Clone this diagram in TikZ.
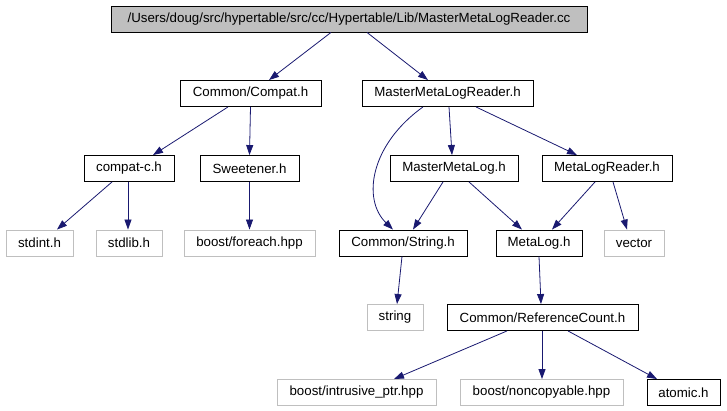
\documentclass[tikz,border=0pt]{standalone}
\usepackage{fontspec}
\setmainfont{Liberation Sans}
\usetikzlibrary{arrows.meta}
\definecolor{edgeblue}{HTML}{191970}
\definecolor{grayline}{HTML}{BFBFBF}
\tikzset{
  box/.style={draw=black, line width=0.9pt, inner sep=0pt, minimum height=26pt,
    font=\fontsize{13.3pt}{15pt}\selectfont, text=black},
  extbox/.style={box, draw=grayline},
  rootbox/.style={box, fill=grayline},
  dep/.style={draw=edgeblue, line width=0.8pt, -{Triangle[length=10pt,width=7pt]}}
}
\begin{document}
\begin{tikzpicture}[x=1pt,y=-1pt]
\useasboundingbox (0,0) rectangle (727,411);
% row 0
\node[rootbox, minimum width=476pt] (root) at (349,19) {/Users/doug/src/hypertable/src/cc/Hypertable/Lib/MasterMetaLogReader.cc};
% row 1
\node[box, minimum width=141pt] (compat) at (250.5,93.5) {Common/Compat.h};
\node[box, minimum width=171pt] (mmlr) at (447.5,93.5) {MasterMetaLogReader.h};
% row 2
\node[box, minimum width=90pt] (compatc) at (129,168.5) {compat-c.h};
\node[box, minimum width=99pt] (sweet) at (249.5,168.5) {Sweetener.h};
\node[box, minimum width=128pt] (mml) at (454,168.5) {MasterMetaLog.h};
\node[box, minimum width=130pt] (mlr) at (607,168.5) {MetaLogReader.h};
% row 3
\node[extbox, minimum width=67pt] (stdint) at (39.5,243) {stdint.h};
\node[extbox, minimum width=66pt] (stdlib) at (129,243) {stdlib.h};
\node[extbox, minimum width=131pt] (foreach) at (249.5,243) {boost/foreach.hpp};
\node[box, minimum width=128pt] (strh) at (403,243) {Common/String.h};
\node[box, minimum width=86pt] (metalog) at (539,243) {MetaLog.h};
\node[extbox, minimum width=60pt] (vector) at (634,243) {vector};
% row 4
\node[extbox, minimum width=56pt] (string) at (395,317.5) {string};
\node[box, minimum width=191pt] (refc) at (542.5,317.5) {Common/ReferenceCount.h};
% row 5
\node[extbox, minimum width=159pt] (intr) at (356.5,392.5) {boost/intrusive\_ptr.hpp};
\node[extbox, minimum width=163pt] (noncp) at (541.5,392.5) {boost/noncopyable.hpp};
\node[box, minimum width=73pt] (atomic) at (683.5,392.5) {atomic.h};
% edges
\draw[dep] ([xshift=-18pt]root.south) -- ([xshift=18.5pt]compat.north);
\draw[dep] ([xshift=18pt]root.south) -- ([xshift=-19.5pt]mmlr.north);
\draw[dep] ([xshift=-22.5pt]compat.south) -- ([xshift=24pt]compatc.north);
\draw[dep] (compat.south) -- (sweet.north);
\draw[dep] ([xshift=-24.5pt]mmlr.south) .. controls +(-53,38) and +(-31,-30) .. ([xshift=-10pt]strh.north);
\draw[dep] ([xshift=1.5pt]mmlr.south) -- ([xshift=-2pt]mml.north);
\draw[dep] ([xshift=28.5pt]mmlr.south) -- ([xshift=-30pt]mlr.north);
\draw[dep] ([xshift=-17pt]compatc.south) -- ([xshift=17.5pt]stdint.north);
\draw[dep] ([xshift=-1pt]compatc.south) -- ([xshift=-1pt]stdlib.north);
\draw[dep] (sweet.south) -- (foreach.north);
\draw[dep] ([xshift=-11pt]mml.south) -- ([xshift=10pt]strh.north);
\draw[dep] ([xshift=15pt]mml.south) -- ([xshift=-17pt]metalog.north);
\draw[dep] ([xshift=-12pt]mlr.south) -- ([xshift=13pt]metalog.north);
\draw[dep] ([xshift=6pt]mlr.south) -- ([xshift=-7pt]vector.north);
\draw[dep] ([xshift=-1pt]strh.south) -- ([xshift=2pt]string.north);
\draw[dep] (metalog.south) -- ([xshift=-1.5pt]refc.north);
\draw[dep] ([xshift=-35.5pt]refc.south) -- ([xshift=37.5pt]intr.north);
\draw[dep] ([xshift=-0.5pt]refc.south) -- ([xshift=0.5pt]noncp.north);
\draw[dep] ([xshift=25.5pt]refc.south) -- ([xshift=-26.5pt]atomic.north);
\end{tikzpicture}
\end{document}
